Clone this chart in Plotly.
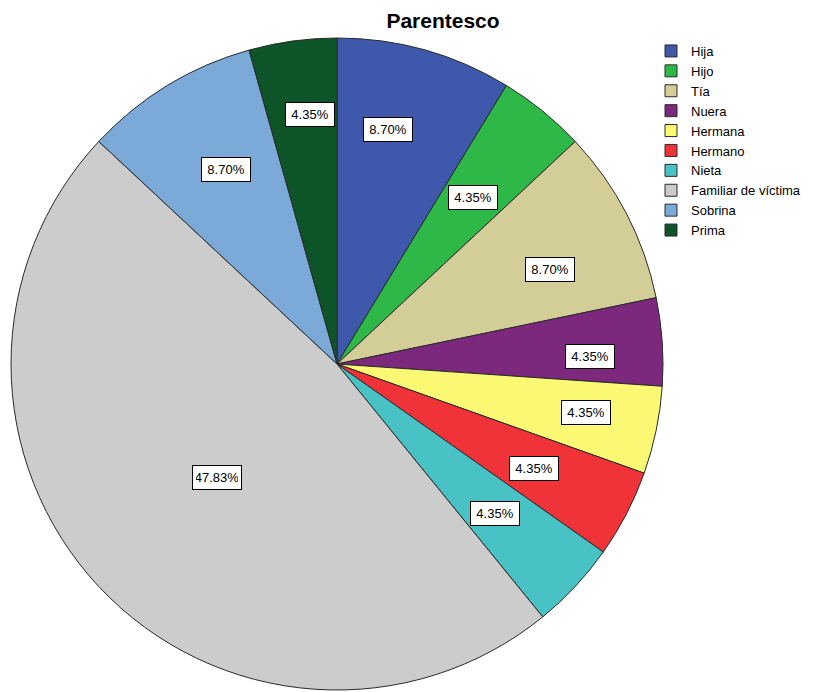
import math
import plotly.graph_objects as go

labels = ["Hija", "Hijo", "Tía", "Nuera", "Hermana", "Hermano", "Nieta",
          "Familiar de víctima", "Sobrina", "Prima"]
counts = [2, 1, 2, 1, 1, 1, 1, 11, 2, 1]
colors = ["#3E58AC", "#2EB848", "#D3CE97", "#7C287D", "#FBF873", "#EF3338",
          "#48C2C5", "#CCCCCC", "#7BAAD8", "#0D5429"]
# placement of the percentage labels: radial fraction of radius and
# angular fraction within the slice
label_r = [0.735, 0.658, 0.715, 0.776, 0.778, 0.683, 0.668, 0.506, 0.686, 0.771]
label_a = [0.39, 0.51, 0.61, 0.635, 0.45, 0.53, 0.53, 0.498, 0.55, 0.61]

OFF = 8  # page body margin
W, H = 814 - OFF, 692 - OFF


def px2x(px):
    return (px - OFF) / W


def py2y(py):
    return 1 - (py - OFF) / H


dom_x = [px2x(10), px2x(664)]
dom_y = [py2y(690), py2y(38)]

fig = go.Figure(go.Pie(
    labels=labels, values=counts, sort=False, direction="clockwise", rotation=0,
    marker=dict(colors=colors, line=dict(color="#2a2a2a", width=1)),
    textinfo="none", hoverinfo="label+percent",
    domain=dict(x=dom_x, y=dom_y),
))

total = sum(counts)
cx = (dom_x[0] + dom_x[1]) / 2 * W
cy = (1 - (dom_y[0] + dom_y[1]) / 2) * H
R = min((dom_x[1] - dom_x[0]) * W, (dom_y[1] - dom_y[0]) * H) / 2
cum = 0
for lab, c, f, a in zip(labels, counts, label_r, label_a):
    ang = (cum + a * c) / total * 2 * math.pi
    cum += c
    x = cx + f * R * math.sin(ang)
    y = cy - f * R * math.cos(ang)
    fig.add_annotation(
        x=x / W, y=1 - y / H, xref="paper", yref="paper",
        xanchor="center", yanchor="middle",
        text=f"{100 * c / total:.2f}%", showarrow=False,
        font=dict(family="Arial, Liberation Sans", size=13, color="black"),
        width=42, height=17,
        bgcolor="white", bordercolor="black", borderwidth=1, borderpad=3,
    )

fig.update_layout(
    width=W, height=H,
    margin=dict(l=0, r=0, t=0, b=0),
    paper_bgcolor="white", plot_bgcolor="white",
    title=dict(text="<b>Parentesco</b>", x=px2x(443), xanchor="center",
               y=py2y(21), yanchor="middle",
               font=dict(family="Arial, Liberation Sans", size=21, color="black")),
    legend=dict(x=px2x(651), y=py2y(36), xanchor="left", yanchor="top",
                font=dict(family="Arial, Liberation Sans", size=13, color="black"),
                bgcolor="rgba(0,0,0,0)", traceorder="normal"),
    font=dict(family="Arial, Liberation Sans"),
)

fig.write_html("out.html")
